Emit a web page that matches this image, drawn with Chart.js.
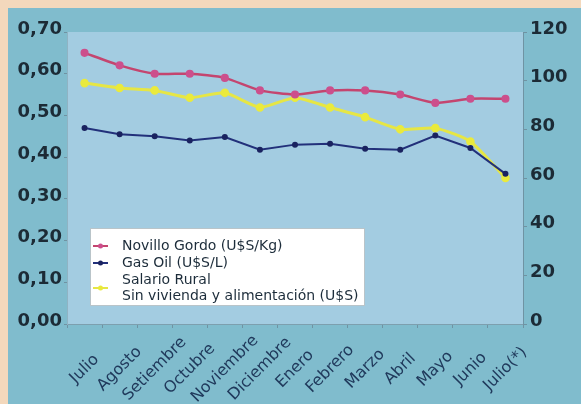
<!DOCTYPE html>
<html>
<head>
<meta charset="utf-8">
<script src="https://cdn.jsdelivr.net/npm/chart.js@4/dist/chart.umd.min.js"></script>
<style>
    html, body { margin: 0; padding: 0; background: #f3d8bc; }
    #marco {
        position: absolute; left: 8px; top: 8px;
        width: 573px; height: 396px;
        background: #80bccd;
    }
</style>
</head>
<body>
<div id="marco"><canvas id="grafico" width="573" height="396"></canvas></div>
<script>
const meses = ['Julio', 'Agosto', 'Setiembre', 'Octubre', 'Noviembre', 'Diciembre', 'Enero', 'Febrero', 'Marzo', 'Abril', 'Mayo', 'Junio', 'Julio(*)'];
const novillo = [0.65, 0.62, 0.60, 0.60, 0.59, 0.56, 0.55, 0.56, 0.56, 0.55, 0.53, 0.54, 0.54];
const gasOil = [0.47, 0.455, 0.45, 0.44, 0.448, 0.418, 0.43, 0.432, 0.42, 0.418, 0.452, 0.422, 0.36];
const salario = [99, 97, 96, 93, 95, 89, 93, 89, 85, 80, 80.5, 75, 60];
const ticksIzq = [0, 0.1, 0.2, 0.3, 0.4, 0.5, 0.6, 0.7];
const ticksDer = [0, 20, 40, 60, 80, 100, 120];

// fondo del area de trazado
const fondoArea = {
    id: 'fondoArea',
    beforeDraw(chart) {
        const { ctx, chartArea: a } = chart;
        ctx.save();
        ctx.fillStyle = '#a3cce1';
        ctx.fillRect(a.left, a.top, a.right - a.left, a.bottom - a.top);
        ctx.restore();
    }
};

// etiquetas del eje x centradas y giradas 45 grados
const etiquetasX = {
    id: 'etiquetasX',
    afterDraw(chart) {
        const { ctx, chartArea: a } = chart;
        const x = chart.scales.x;
        ctx.save();
        ctx.font = '16px "DejaVu Sans"';
        ctx.fillStyle = '#203a5c';
        ctx.textAlign = 'center';
        ctx.textBaseline = 'middle';
        chart.data.labels.forEach((lab, i) => {
            ctx.save();
            ctx.translate(x.getPixelForValue(i), a.bottom + 45);
            ctx.rotate(-Math.PI / 4);
            ctx.fillText(lab, 0, 0);
            ctx.restore();
        });
        ctx.restore();
    }
};

// leyenda dentro del grafico
const leyenda = {
    id: 'leyenda',
    afterDatasetsDraw(chart) {
        const { ctx, chartArea: a } = chart;
        const bx = a.left + 23, by = a.top + 196, bw = 275, bh = 78;
        ctx.save();
        ctx.fillStyle = '#ffffff';
        ctx.fillRect(bx, by, bw, bh);
        ctx.strokeStyle = '#b9c4c9';
        ctx.lineWidth = 1;
        ctx.strokeRect(bx + 0.5, by + 0.5, bw - 1, bh - 1);
        ctx.font = '14px "DejaVu Sans"';
        ctx.textBaseline = 'middle';
        let y = by + 18;
        chart.data.datasets.forEach(ds => {
            const lineas = Array.isArray(ds.label) ? ds.label : [ds.label];
            const ym = y + (lineas.length - 1) * 16 / 2;
            ctx.strokeStyle = ds.borderColor;
            ctx.lineWidth = 2;
            ctx.beginPath();
            ctx.moveTo(bx + 3, ym);
            ctx.lineTo(bx + 18, ym);
            ctx.stroke();
            ctx.fillStyle = ds.pointBackgroundColor;
            ctx.beginPath();
            ctx.arc(bx + 10.5, ym, 2.5, 0, Math.PI * 2);
            ctx.fill();
            ctx.fillStyle = '#1c2c3a';
            lineas.forEach((t, k) => ctx.fillText(t, bx + 32, y + k * 16));
            y += lineas.length * 16 + 1;
        });
        ctx.restore();
    }
};

const ctx = document.getElementById('grafico').getContext('2d');
new Chart(ctx, {
    type: 'line',
    data: {
        labels: meses,
        datasets: [{
            label: 'Novillo Gordo (U$S/Kg)',
            data: novillo,
            yAxisID: 'y',
            borderColor: '#c4456f',
            pointBackgroundColor: '#cc4f8c',
            pointBorderColor: '#cc4f8c',
            borderWidth: 2.5,
            pointRadius: 2.8,
            tension: 0.2,
            order: 1
        }, {
            label: 'Gas Oil (U$S/L)',
            data: gasOil,
            yAxisID: 'y',
            borderColor: '#22307a',
            pointBackgroundColor: '#1a2360',
            pointBorderColor: '#1a2360',
            borderWidth: 2,
            pointRadius: 2,
            tension: 0,
            order: 2
        }, {
            label: ['Salario Rural', 'Sin vivienda y alimentación (U$S)'],
            data: salario,
            yAxisID: 'y1',
            borderColor: '#e6e645',
            pointBackgroundColor: '#eaea3c',
            pointBorderColor: '#eaea3c',
            borderWidth: 3,
            pointRadius: 2.8,
            tension: 0.2,
            order: 3
        }]
    },
    options: {
        responsive: false,
        animation: false,
        layout: { padding: { top: 24, left: 0, right: 0, bottom: 0 } },
        plugins: {
            legend: { display: false },
            tooltip: { enabled: false }
        },
        scales: {
            x: {
                offset: true,
                grid: { display: true, drawOnChartArea: false, offset: true, tickLength: 4, color: '#6f93a3' },
                border: { color: '#7d9fae' },
                ticks: { display: false },
                afterFit(s) { s.height = 80; }
            },
            y: {
                position: 'left',
                min: 0,
                max: 0.7,
                afterBuildTicks(s) { s.ticks = ticksIzq.map(v => ({ value: v })); },
                grid: { drawOnChartArea: false, tickLength: 3, color: '#6f93a3' },
                border: { color: '#8fb3c3' },
                ticks: {
                    padding: 2,
                    labelOffset: -3,
                    color: '#1c2b36',
                    font: { family: 'DejaVu Sans', size: 18, weight: 'bold' },
                    callback: v => v.toFixed(2).replace('.', ',')
                },
                afterFit(s) { s.width = 59; }
            },
            y1: {
                position: 'right',
                min: 0,
                max: 120,
                afterBuildTicks(s) { s.ticks = ticksDer.map(v => ({ value: v })); },
                grid: { drawOnChartArea: false, tickLength: 4, color: '#6f93a3' },
                border: { color: '#6f93a3' },
                ticks: {
                    padding: 3,
                    labelOffset: -3,
                    color: '#1c2b36',
                    font: { family: 'DejaVu Sans', size: 18, weight: 'bold' },
                    callback: v => String(v)
                },
                afterFit(s) { s.width = 58; }
            }
        }
    },
    plugins: [fondoArea, etiquetasX, leyenda]
});
</script>
</body>
</html>
